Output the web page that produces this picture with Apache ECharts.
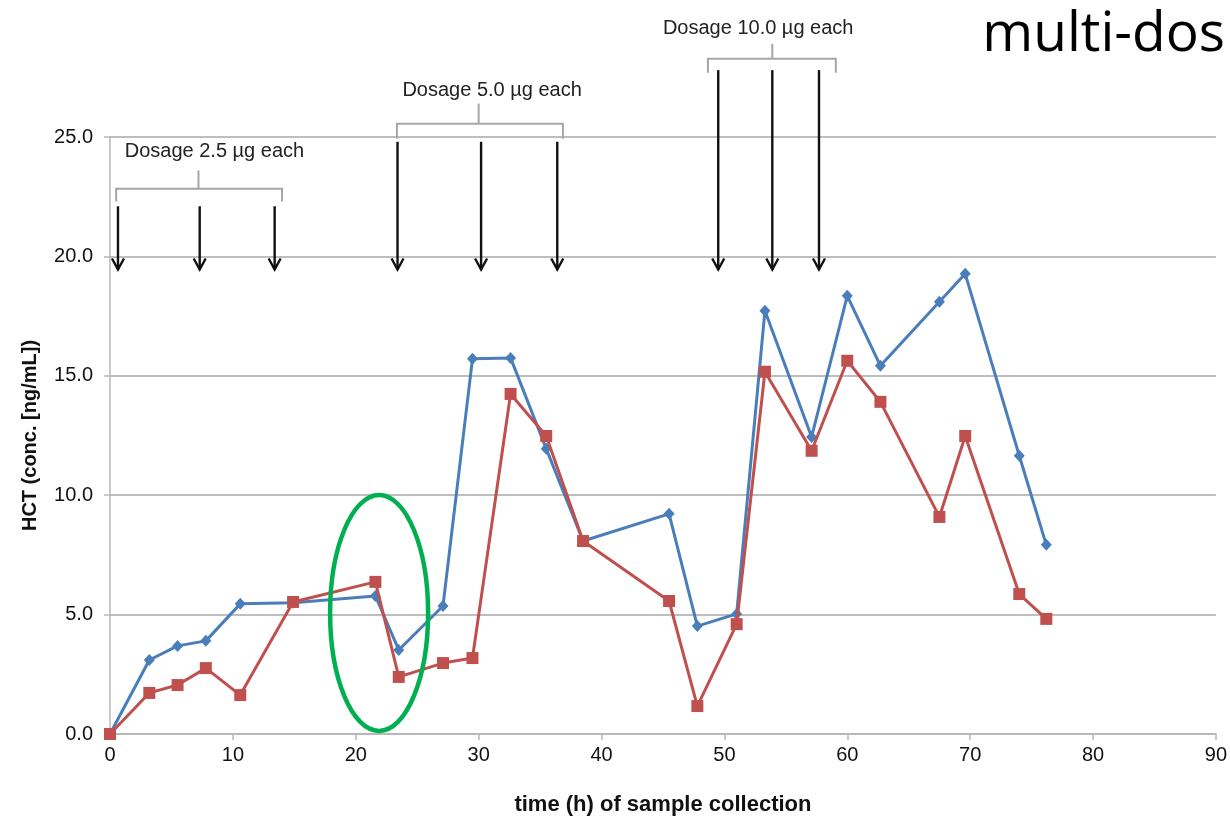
<!DOCTYPE html>
<html>
<head>
<meta charset="utf-8">
<script src="https://cdn.jsdelivr.net/npm/echarts@6/dist/echarts.min.js"></script>
<style>html,body{margin:0;padding:0;background:#fff;}#c{width:1230px;height:821px;}</style>
</head>
<body>
<div id="c"></div>
<script>
// ---- data ----
var times = [0, 3.2, 5.5, 7.8, 10.6, 14.9, 21.6, 23.5, 27.1, 29.5, 32.6, 35.5, 38.5, 45.5, 47.8, 51.0, 53.3, 57.1, 60.0, 62.7, 67.5, 69.6, 74.0, 76.2];
var blueValues = [0, 3.10, 3.69, 3.90, 5.45, 5.50, 5.78, 3.52, 5.36, 15.71, 15.75, 11.95, 8.08, 9.22, 4.52, 5.03, 17.72, 12.44, 18.35, 15.42, 18.10, 19.27, 11.65, 7.92];
var redValues  = [0, 1.72, 2.05, 2.76, 1.63, 5.53, 6.37, 2.39, 2.97, 3.18, 14.24, 12.48, 8.08, 5.57, 1.17, 4.60, 15.17, 11.86, 15.63, 13.91, 9.09, 12.48, 5.86, 4.82];
var xTicks = [0, 10, 20, 30, 40, 50, 60, 70, 80, 90];
var yTicks = [0, 5, 10, 15, 20, 25];
var doseLabels = ['Dosage 2.5 µg each', 'Dosage 5.0 µg each', 'Dosage 10.0 µg each'];
var doseTimes = [[0.65, 7.3, 13.4], [23.4, 30.2, 36.4], [49.5, 53.9, 57.7]];
var arrowTop = [22.1, 24.8, 27.8];
var arrowTip = 19.45;
// bracket: [startT, endT, centerT, lineV, endV, tickTopV, labelT, labelV]
var brackets = [
  [0.5, 14.0, 7.2, 22.83, 22.3, 23.6, 8.5, 24.4],
  [23.35, 36.86, 30.0, 25.55, 24.93, 26.4, 31.1, 26.94],
  [48.66, 59.07, 53.9, 28.28, 27.69, 28.9, 52.75, 29.53]
];
var ellipseCenter = [21.9, 5.07];

var blueData = times.map(function (t, i) { return [t, blueValues[i]]; });
var redData = times.map(function (t, i) { return [t, redValues[i]]; });

var chart = echarts.init(document.getElementById('c'));
var FONT = 'Liberation Sans, Arial, sans-serif';
chart.setOption({
  animation: false,
  backgroundColor: '#fff',
  textStyle: { fontFamily: FONT },
  grid: { left: 110, right: 14, top: 137, bottom: 86, containLabel: false },
  xAxis: {
    type: 'value', min: xTicks[0], max: xTicks[xTicks.length - 1], interval: 10,
    name: 'time (h) of sample collection', nameLocation: 'middle', nameGap: 60,
    nameTextStyle: { fontFamily: FONT, fontSize: 22, fontWeight: 'bold', color: '#111' },
    axisLine: { show: true, lineStyle: { color: '#b8b8b8', width: 2 } },
    axisTick: { show: true, length: 6, lineStyle: { color: '#b8b8b8', width: 1.5 } },
    axisLabel: { fontSize: 20, color: '#111', margin: 11, fontFamily: FONT },
    splitLine: { show: false }
  },
  yAxis: {
    type: 'value', min: yTicks[0], max: yTicks[yTicks.length - 1], interval: 5,
    name: 'HCT (conc. [ng/mL])', nameLocation: 'middle', nameGap: 70,
    nameTextStyle: { fontFamily: FONT, fontSize: 20, fontWeight: 'bold', color: '#111' },
    axisLine: { show: true, lineStyle: { color: '#b8b8b8', width: 1.5 } },
    axisTick: { show: true, length: 6, lineStyle: { color: '#b8b8b8', width: 1.5 } },
    axisLabel: { fontSize: 20, color: '#111', margin: 17, fontFamily: FONT,
      formatter: function (v) { return v.toFixed(1); } },
    splitLine: { show: true, lineStyle: { color: '#a8a8a8', width: 1.5 } }
  },
  series: [
    { type: 'line', name: 'blue', data: blueData, symbol: 'diamond', symbolSize: [11, 12],
      lineStyle: { color: '#4a7ebb', width: 3 }, itemStyle: { color: '#4a7ebb' }, z: 3 },
    { type: 'line', name: 'red', data: redData, symbol: 'rect', symbolSize: 12,
      lineStyle: { color: '#c0504d', width: 3 }, itemStyle: { color: '#c0504d' }, z: 4 }
  ]
});

function px(t, v) { return chart.convertToPixel({ gridIndex: 0 }, [t, v]); }
var g = [];
doseTimes.forEach(function (grp, gi) {
  grp.forEach(function (t) {
    var top = px(t, arrowTop[gi]), tip = px(t, arrowTip);
    g.push({ type: 'line', shape: { x1: top[0], y1: top[1], x2: tip[0], y2: tip[1] },
      style: { stroke: '#111', lineWidth: 2.4 }, z: 10 });
    g.push({ type: 'polyline', shape: { points: [[tip[0] - 6, tip[1] - 11], [tip[0], tip[1]], [tip[0] + 6, tip[1] - 11]] },
      style: { stroke: '#111', lineWidth: 2.4, fill: null }, z: 10 });
  });
});
brackets.forEach(function (b, i) {
  var a = px(b[0], b[4]), a2 = px(b[0], b[3]), c2 = px(b[1], b[3]), c = px(b[1], b[4]);
  g.push({ type: 'polyline', shape: { points: [a, a2, c2, c] },
    style: { stroke: '#a6a6a6', lineWidth: 2, fill: null }, z: 10 });
  var m1 = px(b[2], b[3]), m2 = px(b[2], b[5]);
  g.push({ type: 'line', shape: { x1: m1[0], y1: m1[1], x2: m2[0], y2: m2[1] },
    style: { stroke: '#a6a6a6', lineWidth: 2 }, z: 10 });
  var lp = px(b[6], b[7]);
  g.push({ type: 'text', x: lp[0], y: lp[1], z: 11,
    style: { text: doseLabels[i], fill: '#222', font: '20px ' + FONT, textAlign: 'center', textVerticalAlign: 'middle' } });
});
var ec = px(ellipseCenter[0], ellipseCenter[1]);
g.push({ type: 'ellipse', shape: { cx: ec[0], cy: ec[1], rx: 49, ry: 118 },
  style: { stroke: '#00b050', lineWidth: 4.5, fill: null }, z: 12 });
g.push({ type: 'text', right: 5, top: 8, z: 12,
  style: { text: 'multi-dos', fill: '#000', font: '55px "Open Sans", sans-serif' } });
chart.setOption({ graphic: g });
</script>
</body>
</html>
